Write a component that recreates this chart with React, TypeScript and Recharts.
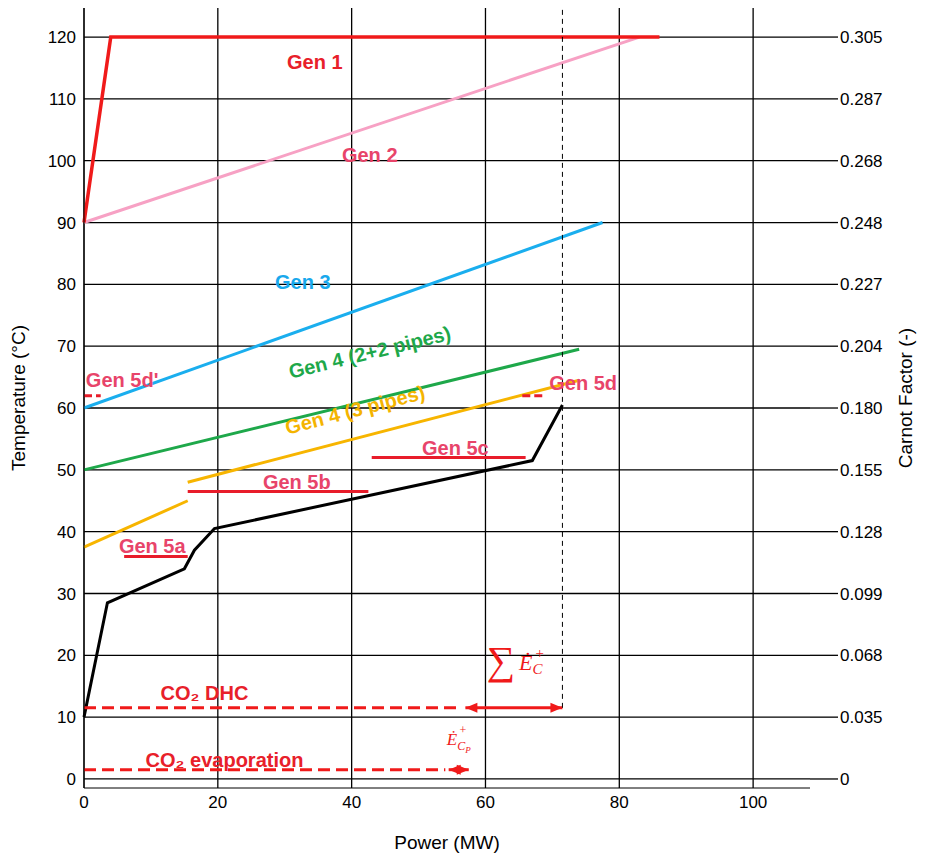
import React from 'react';
import { LineChart, Line, XAxis, YAxis, CartesianGrid, ReferenceDot, ReferenceLine } from 'recharts';

const gen1 = [{ x: 0, y: 90 }, { x: 4, y: 120 }, { x: 86, y: 120 }];
const gen2 = [{ x: 0, y: 90 }, { x: 83, y: 120 }];
const gen3 = [{ x: 0, y: 60 }, { x: 77.5, y: 90 }];
const gen4 = [{ x: 0, y: 50 }, { x: 74, y: 69.5 }];
const gen4b1 = [{ x: 0, y: 37.5 }, { x: 15.5, y: 45 }];
const gen4b2 = [{ x: 15.5, y: 48 }, { x: 74, y: 64.5 }];
const black = [
  { x: 0, y: 10 }, { x: 3.5, y: 28.5 }, { x: 15, y: 34 }, { x: 16.5, y: 37 },
  { x: 19.5, y: 40.5 }, { x: 67, y: 51.5 }, { x: 71.5, y: 60.5 },
];
const gen5a = [{ x: 6, y: 36 }, { x: 15.5, y: 36 }];
const gen5b = [{ x: 15.5, y: 46.5 }, { x: 42.5, y: 46.5 }];
const gen5c = [{ x: 43, y: 52 }, { x: 66, y: 52 }];
const gen5d = [{ x: 65.5, y: 62 }, { x: 69, y: 62 }];
const gen5dp = [{ x: 0, y: 62 }, { x: 2.5, y: 62 }];
const co2dhc = [{ x: 0, y: 11.5 }, { x: 56, y: 11.5 }];
const co2evap = [{ x: 0, y: 1.5 }, { x: 54, y: 1.5 }];
const arrowC = [{ x: 57, y: 11.5 }, { x: 71.5, y: 11.5 }];
const arrowCp = [{ x: 54.5, y: 1.5 }, { x: 57.5, y: 1.5 }];

const tempTicks = [0, 10, 20, 30, 40, 50, 60, 70, 80, 90, 100, 110, 120];
const carnotLabels = ['0', '0.035', '0.068', '0.099', '0.128', '0.155', '0.180', '0.204', '0.227', '0.248', '0.268', '0.287', '0.305'];
const powerTicks = [0, 20, 40, 60, 80, 100];

const labels = [
  { x: 34.5, y: 116, t: 'Gen 1', c: '#e8202a' },
  { x: 42.7, y: 101, t: 'Gen 2', c: '#e8446a' },
  { x: 32.7, y: 80.4, t: 'Gen 3', c: '#18a8ec' },
  { x: 42.7, y: 69, t: 'Gen 4 (2+2 pipes)', c: '#1ea84a', r: -13.7 },
  { x: 40.5, y: 59.7, t: 'Gen 4 (3 pipes)', c: '#f4b400', r: -14.6 },
  { x: 55.5, y: 53.5, t: 'Gen 5c', c: '#e8446a' },
  { x: 31.8, y: 48, t: 'Gen 5b', c: '#e8446a' },
  { x: 10.2, y: 37.7, t: 'Gen 5a', c: '#e8446a' },
  { x: 74.6, y: 64, t: 'Gen 5d', c: '#e8446a' },
  { x: 5.7, y: 64.6, t: "Gen 5d'", c: '#e8446a' },
  { x: 18, y: 13.9, t: 'CO₂ DHC', c: '#e8202a' },
  { x: 21, y: 3.1, t: 'CO₂ evaporation', c: '#e8202a' },
];

const arrowDot = (color: string) => (p: any) => {
  const { cx, cy, index } = p;
  const d = index === 0 ? 1 : -1;
  return <path key={index} d={`M${cx},${cy} L${cx + 12 * d},${cy - 5} L${cx + 12 * d},${cy + 5} Z`} fill={color} />;
};

const straight = (data: any[], color: string, dash?: string, width = 3) => (
  <Line data={data} dataKey="y" stroke={color} strokeWidth={width} strokeDasharray={dash}
    dot={false} activeDot={false} isAnimationActive={false} type="linear" />
);

export default function App() {
  return (
    <LineChart width={911} height={849} margin={{ top: 0, right: 0, left: 0, bottom: 0 }}
      style={{ fontFamily: 'Liberation Sans, Arial, sans-serif' }}>
      <CartesianGrid yAxisId="l" stroke="#000" strokeWidth={1.3} horizontalValues={tempTicks} verticalValues={powerTicks} />
      <XAxis type="number" dataKey="x" domain={[0, 108.5]} ticks={powerTicks} allowDuplicatedCategory={false}
        height={69} tickLine={false} axisLine={{ stroke: '#000' }} tick={{ fill: '#000', fontSize: 17 }}
        label={{ value: 'Power (MW)', position: 'insideBottom', offset: 8, fill: '#000', fontSize: 19 }} />
      <YAxis yAxisId="l" type="number" domain={[-1.46, 124.7]} ticks={tempTicks} width={76}
        tickLine={false} axisLine={{ stroke: '#000' }} tick={{ fill: '#000', fontSize: 17 }}
        label={{ value: 'Temperature (°C)', angle: -90, position: 'insideLeft', offset: 10, fill: '#000', fontSize: 19, style: { textAnchor: 'middle' } }} />
      <YAxis yAxisId="r" orientation="right" type="number" domain={[-1.46, 124.7]} ticks={tempTicks} width={109}
        tickSize={28} tickLine={{ stroke: '#000', strokeWidth: 1.3 }} axisLine={false} allowDataOverflow
        tick={{ fill: '#000', fontSize: 17 }} tickFormatter={(v: number) => carnotLabels[tempTicks.indexOf(v)]}
        label={{ value: 'Carnot Factor (-)', angle: -90, position: 'insideRight', offset: 14, fill: '#000', fontSize: 19, style: { textAnchor: 'middle' } }} />
      <Line yAxisId="r" data={gen1} dataKey="y" stroke="none" dot={false} activeDot={false} isAnimationActive={false} />
      {React.Children.map([
        straight(gen2, '#f7a1c4'),
        straight(gen1, '#f01a1a', undefined, 3.5),
        straight(gen3, '#1aaeee'),
        straight(gen4, '#1ea84a'),
        straight(gen4b1, '#f7b500'),
        straight(gen4b2, '#f7b500'),
        straight(black, '#000'),
        straight(gen5a, '#e81c2a'),
        straight(gen5b, '#e81c2a'),
        straight(gen5c, '#e81c2a'),
        straight(gen5d, '#e81c2a', '8 4'),
        straight(gen5dp, '#e81c2a', '8 4'),
        straight(co2dhc, '#f01a1a', '12 6'),
        straight(co2evap, '#f01a1a', '12 6'),
      ], (el) => React.cloneElement(el, { yAxisId: 'l' }))}
      <Line yAxisId="l" data={arrowC} dataKey="y" stroke="#f01a1a" strokeWidth={3} dot={arrowDot('#f01a1a')}
        activeDot={false} isAnimationActive={false} />
      <Line yAxisId="l" data={arrowCp} dataKey="y" stroke="#f01a1a" strokeWidth={3} dot={arrowDot('#f01a1a')}
        activeDot={false} isAnimationActive={false} />
      <ReferenceLine yAxisId="l" segment={[{ x: 71.5, y: 11.5 }, { x: 71.5, y: 124.7 }]} stroke="#000" strokeDasharray="5 4" />
      {labels.map((l) => (
        <ReferenceDot key={l.t} yAxisId="l" x={l.x} y={l.y} r={0}
          label={(p: any) => {
            const vb = p.viewBox;
            const cx = vb.x + vb.width / 2, cy = vb.y + vb.height / 2;
            return (
              <text x={cx} y={cy} textAnchor="middle" dominantBaseline="central" fill={l.c} fontSize={20} fontWeight="bold"
                transform={l.r ? `rotate(${l.r},${cx},${cy})` : undefined}>{l.t}</text>
            );
          }} />
      ))}
      <ReferenceDot yAxisId="l" x={64.5} y={17} r={0}
        label={(p: any) => {
          const cx = p.viewBox.x, cy = p.viewBox.y;
          return (
            <text x={cx} y={cy} fill="#f01a1a" fontFamily="Liberation Serif, serif" fontStyle="italic" textAnchor="middle">
              <tspan fontSize={40} fontStyle="normal">∑</tspan>
              <tspan fontSize={22} dx={4} dy={-4}>Ė</tspan>
              <tspan fontSize={15} dy={4}>C</tspan>
              <tspan fontSize={15} dx={-8} dy={-16}>+</tspan>
            </text>
          );
        }} />
      <ReferenceDot yAxisId="l" x={56} y={5.5} r={0}
        label={(p: any) => {
          const cx = p.viewBox.x, cy = p.viewBox.y;
          return (
            <text x={cx} y={cy} fill="#f01a1a" fontFamily="Liberation Serif, serif" fontStyle="italic" textAnchor="middle">
              <tspan fontSize={17}>Ė</tspan>
              <tspan fontSize={12} dy={5}>C</tspan>
              <tspan fontSize={9} dy={3}>P</tspan>
              <tspan fontSize={12} dx={-12} dy={-19}>+</tspan>
            </text>
          );
        }} />
    </LineChart>
  );
}
